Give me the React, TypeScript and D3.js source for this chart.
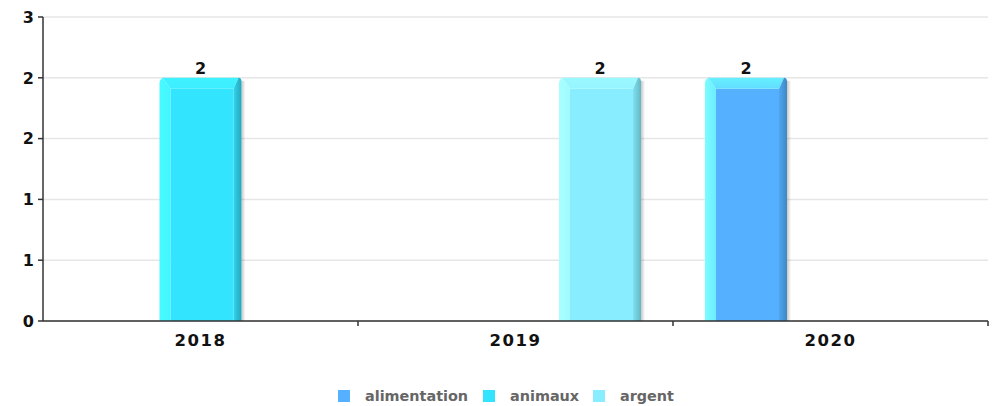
import React from "react";
import * as d3 from "d3";

const categories = ["2018", "2019", "2020"];
const seriesNames = ["alimentation", "animaux", "argent"];
const alimentation = [0, 0, 2];
const animaux = [2, 0, 0];
const argent = [0, 2, 0];
const seriesValues = [alimentation, animaux, argent];
const yTicks = [0, 0.5, 1, 1.5, 2, 2.5];

const palette = [
  { main: "#55b0ff", left: "#77ffff", top: "#66f0ff", right: "#3d88c4" },
  { main: "#33e4ff", left: "#48fbff", top: "#40f2ff", right: "#27a6bb" },
  { main: "#88eeff", left: "#a8ffff", top: "#9af8ff", right: "#64b8c4" },
];

const W = 998;
const H = 406;
const M = { left: 43, right: 10, top: 17, bottom: 85 };

export default function App() {
  const x0 = d3.scaleBand().domain(categories).range([M.left, W - M.right]).padding(0);
  const bw0 = x0.bandwidth();
  const x1 = d3
    .scaleBand()
    .domain(seriesNames)
    .range([32, 32 + 251])
    .paddingInner(0.0296)
    .paddingOuter(0);
  const y = d3.scaleLinear().domain([0, 2.5]).range([H - M.bottom, M.top]);
  const y0 = y(0);
  const fmt = (v: number) => String(Math.round(v));
  const bevelL = 11;
  const bevelT = 11;
  const bevelR = 8;
  const r = 3;

  const bars: any[] = [];
  seriesValues.forEach((vals, si) => {
    vals.forEach((v, ci) => {
      if (!v) return;
      bars.push({ si, ci, v });
    });
  });

  return (
    <svg width={W} height={H} style={{ display: "block", position: "absolute", left: 0, top: 0 }}>
      <defs>
        <linearGradient id="shadow" x1="0" x2="1" y1="0" y2="0">
          <stop offset="0" stopColor="#000" stopOpacity={0.22} />
          <stop offset="1" stopColor="#000" stopOpacity={0} />
        </linearGradient>
        {palette.map((p, i) => (
          <React.Fragment key={i}>
            <linearGradient id={`gl${i}`} x1="0" x2="1" y1="0" y2="0">
              <stop offset="0" stopColor={p.left} />
              <stop offset="1" stopColor={d3.interpolateRgb(p.left, p.main)(0.25)} />
            </linearGradient>
            <linearGradient id={`gt${i}`} x1="0" x2="0" y1="0" y2="1">
              <stop offset="0" stopColor={p.top} />
              <stop offset="1" stopColor={d3.interpolateRgb(p.top, p.main)(0.3)} />
            </linearGradient>
            <linearGradient id={`gr${i}`} x1="0" x2="1" y1="0" y2="0">
              <stop offset="0" stopColor={d3.interpolateRgb(p.main, p.right)(0.25)} />
              <stop offset="1" stopColor={p.right} />
            </linearGradient>
          </React.Fragment>
        ))}
      </defs>
      {/* grid */}
      {yTicks.map((t) => (
        <line key={t} x1={M.left} x2={W - M.right} y1={y(t)} y2={y(t)} stroke="#e6e6e6" strokeWidth={1.5} />
      ))}
      {/* bars */}
      {bars.map(({ si, ci, v }) => {
        const bx = (x0(categories[ci]) as number) + (x1(seriesNames[si]) as number);
        const bw = x1.bandwidth();
        const by = y(v);
        const br = bx + bw;
        const id = si;
        return (
          <g key={`${si}-${ci}`}>
            <rect x={br} y={by + 3} width={4} height={y0 - by - 3} fill="url(#shadow)" />
            <rect x={bx + bevelL} y={by + bevelT} width={bw - bevelL - bevelR} height={y0 - by - bevelT} fill={palette[id].main} />
            <path
              d={`M${bx},${y0} L${bx},${by + r + 2} Q${bx},${by + 2} ${bx + r},${by} L${bx + bevelL},${by + bevelT} L${bx + bevelL},${y0} Z`}
              fill={`url(#gl${id})`}
            />
            <path
              d={`M${bx + r},${by} L${br - r},${by} L${br - bevelR},${by + bevelT} L${bx + bevelL},${by + bevelT} Z`}
              fill={`url(#gt${id})`}
            />
            <path
              d={`M${br - r},${by} Q${br},${by} ${br},${by + r + 1} L${br},${y0} L${br - bevelR},${y0} L${br - bevelR},${by + bevelT} Z`}
              fill={`url(#gr${id})`}
            />
            <text
              x={bx + bw / 2}
              y={by - 4}
              textAnchor="middle"
              fontFamily="DejaVu Sans"
              fontWeight="bold"
              fontSize={16}
              fill="#111"
            >
              {fmt(v)}
            </text>
          </g>
        );
      })}
      {/* y axis */}
      <line x1={M.left} x2={M.left} y1={M.top} y2={y0} stroke="#333" strokeWidth={1.5} />
      {yTicks.map((t) => (
        <g key={t}>
          <line x1={M.left - 5} x2={M.left} y1={y(t)} y2={y(t)} stroke="#333" strokeWidth={1.5} />
          <text
            x={M.left - 9}
            y={y(t)}
            dy="0.36em"
            textAnchor="end"
            fontFamily="DejaVu Sans"
            fontWeight="bold"
            fontSize={16}
            fill="#111"
          >
            {fmt(t)}
          </text>
        </g>
      ))}
      {/* x axis */}
      <line x1={M.left} x2={W - M.right} y1={y0} y2={y0} stroke="#333" strokeWidth={1.5} />
      {categories.map((c) => (
        <g key={c}>
          <line
            x1={(x0(c) as number) + bw0}
            x2={(x0(c) as number) + bw0}
            y1={y0}
            y2={y0 + 5}
            stroke="#333"
            strokeWidth={1.5}
          />
          <text
            x={(x0(c) as number) + bw0 / 2}
            y={y0 + 25}
            textAnchor="middle"
            fontFamily="DejaVu Sans"
            fontWeight="bold"
            fontSize={16.5}
            letterSpacing={1.5}
            fill="#111"
          >
            {c}
          </text>
        </g>
      ))}
      {/* legend */}
      {seriesNames.map((s, i) => {
        const lx = [338, 483, 593][i];
        return (
          <g key={s}>
            <rect x={lx} y={390} width={12} height={12} fill={palette[i].main} />
            <text x={lx + 27} y={400.5} fontFamily="DejaVu Sans" fontWeight="bold" fontSize={14.4} fill="#666">
              {s}
            </text>
          </g>
        );
      })}
    </svg>
  );
}
